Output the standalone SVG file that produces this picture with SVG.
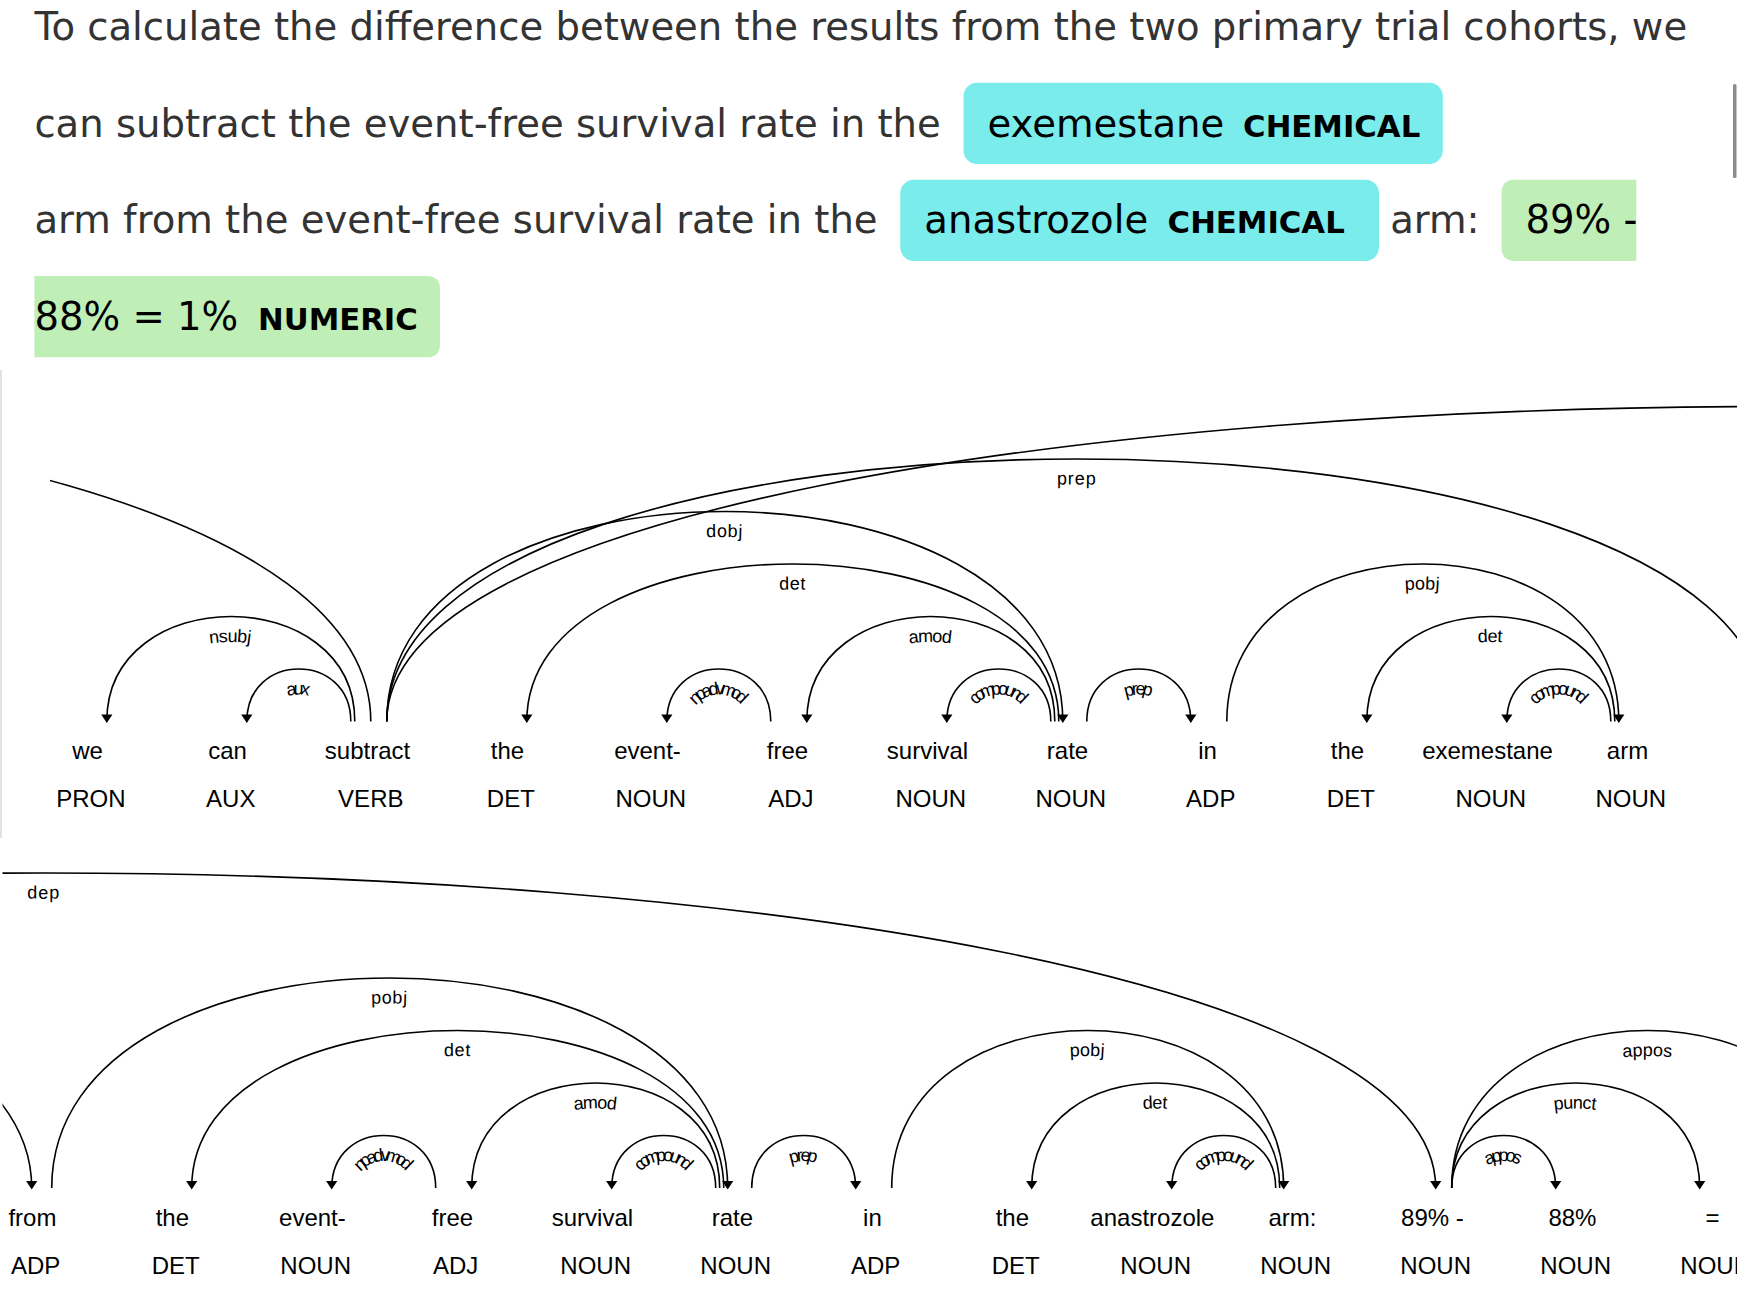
<svg xmlns="http://www.w3.org/2000/svg" xmlns:xlink="http://www.w3.org/1999/xlink" width="1737" height="1300" viewBox="0 0 1737 1300">
<style>
.ent{font-family:"DejaVu Sans",sans-serif;font-size:38.6px;fill:#333}
.mk{fill:#000}
.elab{font-family:"DejaVu Sans",sans-serif;font-weight:bold;font-size:30.72px;fill:#000}
.chem{fill:#7aecec}
.num{fill:#bfeeb7}
.tok{font-family:"Liberation Sans",Arial,sans-serif;font-size:24px;fill:#000;text-anchor:middle}
.arc{fill:none;stroke:#000;stroke-width:1.6}
.head{fill:#000}
.lbl{font-family:"Liberation Sans",Arial,sans-serif;font-size:18px;letter-spacing:1px;fill:#000}
</style>
<defs>
<clipPath id="clipRow1"><rect x="50" y="300" width="1700" height="540"/></clipPath>
<clipPath id="clipRow2"><rect x="2.5" y="840" width="1740" height="460"/></clipPath>
<path id="a0" d="M-1573.2,721.5 C-1573.2,301.5 370.8,301.5 370.8,721.5"/>
<path id="a1" d="M106.8,721.5 C106.8,581.5 354.8,581.5 354.8,721.5"/>
<path id="a2" d="M246.8,721.5 C246.8,651.5 350.8,651.5 350.8,721.5"/>
<path id="a3" d="M386.8,721.5 C386.8,441.5 1062.8,441.5 1062.8,721.5"/>
<path id="a4" d="M526.8,721.5 C526.8,511.5 1058.8,511.5 1058.8,721.5"/>
<path id="a5" d="M666.8,721.5 C666.8,651.5 770.8,651.5 770.8,721.5"/>
<path id="a6" d="M806.8,721.5 C806.8,581.5 1054.8,581.5 1054.8,721.5"/>
<path id="a7" d="M946.8,721.5 C946.8,651.5 1050.8,651.5 1050.8,721.5"/>
<path id="a8" d="M1086.8,721.5 C1086.8,651.5 1190.8,651.5 1190.8,721.5"/>
<path id="a9" d="M1226.8,721.5 C1226.8,511.5 1618.8,511.5 1618.8,721.5"/>
<path id="a10" d="M1366.8,721.5 C1366.8,581.5 1614.8,581.5 1614.8,721.5"/>
<path id="a11" d="M1506.8,721.5 C1506.8,651.5 1610.8,651.5 1610.8,721.5"/>
<path id="a12" d="M386.8,721.5 C386.8,371.5 1766.8,371.5 1766.8,721.5"/>
<path id="a13" d="M386.8,721.5 C386.8,301.5 3170.8,301.5 3170.8,721.5"/>
<path id="a14" d="M1786.8,721.5 C1786.8,441.5 2462.8,441.5 2462.8,721.5"/>
<path id="a15" d="M1926.8,721.5 C1926.8,511.5 2458.8,511.5 2458.8,721.5"/>
<path id="a16" d="M2066.8,721.5 C2066.8,651.5 2170.8,651.5 2170.8,721.5"/>
<path id="a17" d="M2206.8,721.5 C2206.8,581.5 2454.8,581.5 2454.8,721.5"/>
<path id="a18" d="M2346.8,721.5 C2346.8,651.5 2450.8,651.5 2450.8,721.5"/>
<path id="a19" d="M2486.8,721.5 C2486.8,651.5 2590.8,651.5 2590.8,721.5"/>
<path id="a20" d="M2626.8,721.5 C2626.8,511.5 3018.8,511.5 3018.8,721.5"/>
<path id="a21" d="M2766.8,721.5 C2766.8,581.5 3014.8,581.5 3014.8,721.5"/>
<path id="a22" d="M2906.8,721.5 C2906.8,651.5 3010.8,651.5 3010.8,721.5"/>
<path id="a23" d="M3186.8,721.5 C3186.8,651.5 3290.8,651.5 3290.8,721.5"/>
<path id="a24" d="M3186.8,721.5 C3186.8,581.5 3434.8,581.5 3434.8,721.5"/>
<path id="a25" d="M3186.8,721.5 C3186.8,511.5 3578.8,511.5 3578.8,721.5"/>
</defs>
<rect x="0" y="0" width="1737" height="1300" fill="#fff"/>

<g id="entity-text">
  <text class="ent" x="34.4" y="40">To calculate the difference between the results from the two primary trial cohorts, we</text>
  <text class="ent" x="34.4" y="136.5">can subtract the event-free survival rate in the</text>
  <g id="ent-exemestane">
    <rect class="chem" x="963.5" y="82.7" width="479.3" height="81.3" rx="13.44"/>
    <text class="ent mk" x="987.5" y="136.5">exemestane</text>
    <text class="elab" x="1243.1" y="136.5">CHEMICAL</text>
  </g>
  <text class="ent" x="34.4" y="233">arm from the event-free survival rate in the</text>
  <g id="ent-anastrozole">
    <rect class="chem" x="900.3" y="179.7" width="478.7" height="81.3" rx="13.44"/>
    <text class="ent mk" x="924.3" y="233">anastrozole</text>
    <text class="elab" x="1167.6" y="233">CHEMICAL</text>
  </g>
  <text class="ent" x="1390.2" y="233">arm:</text>
  <g id="ent-numeric">
    <path class="num" d="M1636.3,179.7 L1514.9,179.7 Q1501.5,179.7 1501.5,193.1 L1501.5,247.6 Q1501.5,261 1514.9,261 L1636.3,261 Z"/>
    <text class="ent mk" x="1525.5" y="233">89% -</text>
    <path class="num" d="M34.4,276 L426.6,276 Q440,276 440,289.4 L440,343.9 Q440,357.3 426.6,357.3 L34.4,357.3 Z"/>
    <text class="ent mk" x="34.4" y="329.5">88% = 1%</text>
    <text class="elab" x="258" y="329.5">NUMERIC</text>
  </g>
</g>

<rect id="scrollbar" x="1733" y="84" width="3.5" height="94" rx="1.5" fill="#8c8c8c"/>
<rect id="row1-border" x="0" y="370" width="2" height="468" fill="#e2e2e2"/>

<g id="tokens">
  <g id="tok-we"><text class="tok" y="759"><tspan x="87.5">we</tspan><tspan x="90.8" dy="48">PRON</tspan></text></g>
  <g id="tok-can"><text class="tok" y="759"><tspan x="227.5">can</tspan><tspan x="230.8" dy="48">AUX</tspan></text></g>
  <g id="tok-subtract"><text class="tok" y="759"><tspan x="367.5">subtract</tspan><tspan x="370.8" dy="48">VERB</tspan></text></g>
  <g id="tok-the-1"><text class="tok" y="759"><tspan x="507.5">the</tspan><tspan x="510.8" dy="48">DET</tspan></text></g>
  <g id="tok-event-1"><text class="tok" y="759"><tspan x="647.5">event-</tspan><tspan x="650.8" dy="48">NOUN</tspan></text></g>
  <g id="tok-free-1"><text class="tok" y="759"><tspan x="787.5">free</tspan><tspan x="790.8" dy="48">ADJ</tspan></text></g>
  <g id="tok-survival-1"><text class="tok" y="759"><tspan x="927.5">survival</tspan><tspan x="930.8" dy="48">NOUN</tspan></text></g>
  <g id="tok-rate-1"><text class="tok" y="759"><tspan x="1067.5">rate</tspan><tspan x="1070.8" dy="48">NOUN</tspan></text></g>
  <g id="tok-in-1"><text class="tok" y="759"><tspan x="1207.5">in</tspan><tspan x="1210.8" dy="48">ADP</tspan></text></g>
  <g id="tok-the-2"><text class="tok" y="759"><tspan x="1347.5">the</tspan><tspan x="1350.8" dy="48">DET</tspan></text></g>
  <g id="tok-exemestane"><text class="tok" y="759"><tspan x="1487.5">exemestane</tspan><tspan x="1490.8" dy="48">NOUN</tspan></text></g>
  <g id="tok-arm-1"><text class="tok" y="759"><tspan x="1627.5">arm</tspan><tspan x="1630.8" dy="48">NOUN</tspan></text></g>

  <g id="tok-from"><text class="tok" y="1225.5"><tspan x="32.4">from</tspan><tspan x="35.7" dy="48">ADP</tspan></text></g>
  <g id="tok-the-3"><text class="tok" y="1225.5"><tspan x="172.4">the</tspan><tspan x="175.7" dy="48">DET</tspan></text></g>
  <g id="tok-event-2"><text class="tok" y="1225.5"><tspan x="312.4">event-</tspan><tspan x="315.7" dy="48">NOUN</tspan></text></g>
  <g id="tok-free-2"><text class="tok" y="1225.5"><tspan x="452.4">free</tspan><tspan x="455.7" dy="48">ADJ</tspan></text></g>
  <g id="tok-survival-2"><text class="tok" y="1225.5"><tspan x="592.4">survival</tspan><tspan x="595.7" dy="48">NOUN</tspan></text></g>
  <g id="tok-rate-2"><text class="tok" y="1225.5"><tspan x="732.4">rate</tspan><tspan x="735.7" dy="48">NOUN</tspan></text></g>
  <g id="tok-in-2"><text class="tok" y="1225.5"><tspan x="872.4">in</tspan><tspan x="875.7" dy="48">ADP</tspan></text></g>
  <g id="tok-the-4"><text class="tok" y="1225.5"><tspan x="1012.4">the</tspan><tspan x="1015.7" dy="48">DET</tspan></text></g>
  <g id="tok-anastrozole"><text class="tok" y="1225.5"><tspan x="1152.4">anastrozole</tspan><tspan x="1155.7" dy="48">NOUN</tspan></text></g>
  <g id="tok-arm-2"><text class="tok" y="1225.5"><tspan x="1292.4">arm:</tspan><tspan x="1295.7" dy="48">NOUN</tspan></text></g>
  <g id="tok-89"><text class="tok" y="1225.5"><tspan x="1432.4">89% -</tspan><tspan x="1435.7" dy="48">NOUN</tspan></text></g>
  <g id="tok-88"><text class="tok" y="1225.5"><tspan x="1572.4">88%</tspan><tspan x="1575.7" dy="48">NOUN</tspan></text></g>
  <g id="tok-eq"><text class="tok" y="1225.5"><tspan x="1712.4">=</tspan><tspan x="1715.7" dy="48">NOUN</tspan></text></g>
</g>

<g id="connectors">
  <g id="row1-arcs">
    <use href="#a0" class="arc" clip-path="url(#clipRow1)"/>
    <use href="#a1" class="arc"/>
    <use href="#a2" class="arc"/>
    <use href="#a3" class="arc"/>
    <use href="#a4" class="arc"/>
    <use href="#a5" class="arc"/>
    <use href="#a6" class="arc"/>
    <use href="#a7" class="arc"/>
    <use href="#a8" class="arc"/>
    <use href="#a9" class="arc"/>
    <use href="#a10" class="arc"/>
    <use href="#a11" class="arc"/>
    <use href="#a12" class="arc"/>
    <use href="#a13" class="arc"/>
    <path class="head" d="M106.8,723 L101.2,714.5 L112.4,714.5 Z"/>
    <path class="head" d="M246.8,723 L241.2,714.5 L252.4,714.5 Z"/>
    <path class="head" d="M1062.8,723 L1057.2,714.5 L1068.4,714.5 Z"/>
    <path class="head" d="M526.8,723 L521.2,714.5 L532.4,714.5 Z"/>
    <path class="head" d="M666.8,723 L661.2,714.5 L672.4,714.5 Z"/>
    <path class="head" d="M806.8,723 L801.2,714.5 L812.4,714.5 Z"/>
    <path class="head" d="M946.8,723 L941.2,714.5 L952.4,714.5 Z"/>
    <path class="head" d="M1190.8,723 L1185.2,714.5 L1196.4,714.5 Z"/>
    <path class="head" d="M1618.8,723 L1613.2,714.5 L1624.4,714.5 Z"/>
    <path class="head" d="M1366.8,723 L1361.2,714.5 L1372.4,714.5 Z"/>
    <path class="head" d="M1506.8,723 L1501.2,714.5 L1512.4,714.5 Z"/>
    <text class="lbl" dy="25.5"><textPath href="#a1" startOffset="50%" text-anchor="middle">nsubj</textPath></text>
    <text class="lbl" dy="25.5"><textPath href="#a2" startOffset="50%" text-anchor="middle">aux</textPath></text>
    <text class="lbl" dy="25.5"><textPath href="#a3" startOffset="50%" text-anchor="middle">dobj</textPath></text>
    <text class="lbl" dy="25.5"><textPath href="#a4" startOffset="50%" text-anchor="middle">det</textPath></text>
    <text class="lbl" dy="25.5"><textPath href="#a5" startOffset="50%" text-anchor="middle">npadvmod</textPath></text>
    <text class="lbl" dy="25.5"><textPath href="#a6" startOffset="50%" text-anchor="middle">amod</textPath></text>
    <text class="lbl" dy="25.5"><textPath href="#a7" startOffset="50%" text-anchor="middle">compound</textPath></text>
    <text class="lbl" dy="25.5"><textPath href="#a8" startOffset="50%" text-anchor="middle">prep</textPath></text>
    <text class="lbl" dy="25.5"><textPath href="#a9" startOffset="50%" text-anchor="middle">pobj</textPath></text>
    <text class="lbl" dy="25.5"><textPath href="#a10" startOffset="50%" text-anchor="middle">det</textPath></text>
    <text class="lbl" dy="25.5"><textPath href="#a11" startOffset="50%" text-anchor="middle">compound</textPath></text>
    <text class="lbl" dy="25.5"><textPath href="#a12" startOffset="50%" text-anchor="middle">prep</textPath></text>
  </g>
  <g id="row2-clip" clip-path="url(#clipRow2)">
    <g id="row2-arcs" transform="translate(-1735.1,466.5)">
      <use href="#a12" class="arc"/>
      <use href="#a13" class="arc"/>
      <use href="#a14" class="arc"/>
      <use href="#a15" class="arc"/>
      <use href="#a16" class="arc"/>
      <use href="#a17" class="arc"/>
      <use href="#a18" class="arc"/>
      <use href="#a19" class="arc"/>
      <use href="#a20" class="arc"/>
      <use href="#a21" class="arc"/>
      <use href="#a22" class="arc"/>
      <use href="#a23" class="arc"/>
      <use href="#a24" class="arc"/>
      <use href="#a25" class="arc"/>
      <path class="head" d="M1766.8,723 L1761.2,714.5 L1772.4,714.5 Z"/>
      <path class="head" d="M3170.8,723 L3165.2,714.5 L3176.4,714.5 Z"/>
      <path class="head" d="M2462.8,723 L2457.2,714.5 L2468.4,714.5 Z"/>
      <path class="head" d="M1926.8,723 L1921.2,714.5 L1932.4,714.5 Z"/>
      <path class="head" d="M2066.8,723 L2061.2,714.5 L2072.4,714.5 Z"/>
      <path class="head" d="M2206.8,723 L2201.2,714.5 L2212.4,714.5 Z"/>
      <path class="head" d="M2346.8,723 L2341.2,714.5 L2352.4,714.5 Z"/>
      <path class="head" d="M2590.8,723 L2585.2,714.5 L2596.4,714.5 Z"/>
      <path class="head" d="M3018.8,723 L3013.2,714.5 L3024.4,714.5 Z"/>
      <path class="head" d="M2766.8,723 L2761.2,714.5 L2772.4,714.5 Z"/>
      <path class="head" d="M2906.8,723 L2901.2,714.5 L2912.4,714.5 Z"/>
      <path class="head" d="M3290.8,723 L3285.2,714.5 L3296.4,714.5 Z"/>
      <path class="head" d="M3434.8,723 L3429.2,714.5 L3440.4,714.5 Z"/>
      <text class="lbl" dy="25.5"><textPath href="#a13" startOffset="50%" text-anchor="middle">dep</textPath></text>
      <text class="lbl" dy="25.5"><textPath href="#a14" startOffset="50%" text-anchor="middle">pobj</textPath></text>
      <text class="lbl" dy="25.5"><textPath href="#a15" startOffset="50%" text-anchor="middle">det</textPath></text>
      <text class="lbl" dy="25.5"><textPath href="#a16" startOffset="50%" text-anchor="middle">npadvmod</textPath></text>
      <text class="lbl" dy="25.5"><textPath href="#a17" startOffset="50%" text-anchor="middle">amod</textPath></text>
      <text class="lbl" dy="25.5"><textPath href="#a18" startOffset="50%" text-anchor="middle">compound</textPath></text>
      <text class="lbl" dy="25.5"><textPath href="#a19" startOffset="50%" text-anchor="middle">prep</textPath></text>
      <text class="lbl" dy="25.5"><textPath href="#a20" startOffset="50%" text-anchor="middle">pobj</textPath></text>
      <text class="lbl" dy="25.5"><textPath href="#a21" startOffset="50%" text-anchor="middle">det</textPath></text>
      <text class="lbl" dy="25.5"><textPath href="#a22" startOffset="50%" text-anchor="middle">compound</textPath></text>
      <text class="lbl" dy="25.5"><textPath href="#a23" startOffset="50%" text-anchor="middle">appos</textPath></text>
      <text class="lbl" dy="25.5"><textPath href="#a24" startOffset="50%" text-anchor="middle">punct</textPath></text>
      <text class="lbl" dy="25.5"><textPath href="#a25" startOffset="50%" text-anchor="middle">appos</textPath></text>
    </g>
  </g>
</g>
</svg>
